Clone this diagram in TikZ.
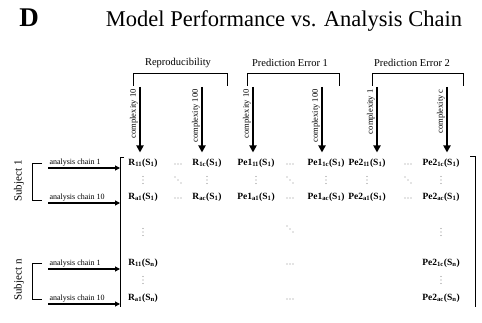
\documentclass[tikz,border=0pt]{standalone}
\usepackage{fontspec}
\setmainfont{Liberation Serif}
\usetikzlibrary{arrows.meta, positioning}

\begin{document}
\begin{tikzpicture}[
    x=1pt, y=-1pt,
    entry/.style={font=\fontsize{9.5}{11}\selectfont\bfseries, inner sep=1pt},
    dotfill/.style={fill=black!45},
    hdts/.pic={\fill[dotfill] (-3,0) circle (0.55) (0,0) circle (0.55) (3,0) circle (0.55);},
    vdts/.pic={\fill[dotfill] (0,-3.5) circle (0.55) (0,0) circle (0.55) (0,3.5) circle (0.55);},
    ddts/.pic={\fill[dotfill] (-3,-3) circle (0.55) (0,0) circle (0.55) (3,3) circle (0.55);},
    group/.style={font=\fontsize{10.5}{12}\selectfont},
    cplx/.style={rotate=90, anchor=south east, font=\fontsize{8.5}{10}\selectfont, inner sep=1.5pt},
    chain/.style={anchor=south west, font=\fontsize{8}{9}\selectfont, inner sep=1pt},
    subj/.style={rotate=90, font=\fontsize{11}{12}\selectfont},
    carrow/.style={-{Triangle[length=7pt, width=7pt]}, line width=1.8pt, shorten >=5pt},
    harrow/.style={-{Triangle[length=5pt, width=5pt]}, line width=1.1pt},
    brack/.style={line width=0.9pt},
]
\useasboundingbox (0,0) rectangle (482,323);

% Heading
\node[font=\fontsize{27}{30}\selectfont\bfseries, anchor=base] (panel) at (29,27) {D};
\node[font=\fontsize{22.5}{26}\selectfont, anchor=base] (title) at (284,27) {Model Performance vs. Analysis Chain};

% Measure groups with brackets
\node[group] (repro) at (178,63) {Reproducibility};
\node[group] (pe1) at (290,63) {Prediction Error 1};
\node[group] (pe2) at (412,63) {Prediction Error 2};
\draw[brack] (133,86) |- (227,73) -- (227,86);
\draw[brack] (247,86) |- (339,73) -- (339,86);
\draw[brack] (372,86) |- (463,73) -- (463,86);

% Subject 1 rows
\node[entry] (r11) at (143,163) {R\textsubscript{11}(S\textsubscript{1})};
\pic (h11) at (178,164) {hdts};
\node[entry] (r1c) at (207,163) {R\textsubscript{1c}(S\textsubscript{1})};
\node[entry] (pa11) at (256,163) {Pe1\textsubscript{11}(S\textsubscript{1})};
\pic (h12) at (290,164) {hdts};
\node[entry] (pa1c) at (326,163) {Pe1\textsubscript{1c}(S\textsubscript{1})};
\node[entry] (pb11) at (367,163) {Pe2\textsubscript{11}(S\textsubscript{1})};
\pic (h13) at (408,164) {hdts};
\node[entry] (pb1c) at (441,163) {Pe2\textsubscript{1c}(S\textsubscript{1})};

\pic (v11) at (143,180) {vdts};
\pic (d11) at (178,180) {ddts};
\pic (v12) at (207,180) {vdts};
\pic (v13) at (256,180) {vdts};
\pic (d12) at (290,180) {ddts};
\pic (v14) at (326,180) {vdts};
\pic (v15) at (367,180) {vdts};
\pic (d13) at (408,180) {ddts};
\pic (v16) at (441,180) {vdts};

\node[entry] (ra1) at (143,197) {R\textsubscript{a1}(S\textsubscript{1})};
\pic (h21) at (178,198) {hdts};
\node[entry] (rac) at (207,197) {R\textsubscript{ac}(S\textsubscript{1})};
\node[entry] (paa1) at (256,197) {Pe1\textsubscript{a1}(S\textsubscript{1})};
\pic (h22) at (290,198) {hdts};
\node[entry] (paac) at (326,197) {Pe1\textsubscript{ac}(S\textsubscript{1})};
\node[entry] (pba1) at (367,197) {Pe2\textsubscript{a1}(S\textsubscript{1})};
\pic (h23) at (408,198) {hdts};
\node[entry] (pbac) at (441,197) {Pe2\textsubscript{ac}(S\textsubscript{1})};

% Gap between subjects
\pic (vm1) at (143,232) {vdts};
\pic (dm) at (290,229) {ddts};
\pic (vm2) at (441,232) {vdts};

% Subject n rows
\node[entry] (rn11) at (143,263) {R\textsubscript{11}(S\textsubscript{n})};
\pic (hn1) at (290,264) {hdts};
\node[entry] (pbn1c) at (441,263) {Pe2\textsubscript{1c}(S\textsubscript{n})};
\pic (vn1) at (143,280) {vdts};
\pic (vn2) at (441,280) {vdts};
\node[entry] (rna1) at (143,298) {R\textsubscript{a1}(S\textsubscript{n})};
\pic (hn2) at (290,299) {hdts};
\node[entry] (pbnac) at (441,298) {Pe2\textsubscript{ac}(S\textsubscript{n})};

% Matrix brackets
\coordinate (lbtop) at (120,157);
\coordinate (lbbot) at (120,307);
\draw[brack] (124,157) -- (lbtop) -- (lbbot);
\draw[brack] (470,156) -- (475,156) -- (475,307);

% Complexity arrows
\coordinate (c1) at (140,87);
\coordinate (c2) at (202,87);
\coordinate (c3) at (253,87);
\coordinate (c4) at (322,87);
\coordinate (c5) at (377,87);
\coordinate (c6) at (447,87);
\draw[carrow] (c1) -- node[cplx, pos=0] {complexity 10} (c1 |- r11.north);
\draw[carrow] (c2) -- node[cplx, pos=0] {complexity 100} (c2 |- r1c.north);
\draw[carrow] (c3) -- node[cplx, pos=0] {complexity 10} (c3 |- pa11.north);
\draw[carrow] (c4) -- node[cplx, pos=0] {complexity 100} (c4 |- pa1c.north);
\draw[carrow] (c5) -- node[cplx, pos=0] {complexity 1} (c5 |- pb11.north);
\draw[carrow] (c6) -- node[cplx, pos=0] {complexity c} (c6 |- pb1c.north);

% Subject 1 analysis chains
\node[subj] (subj1) at (19,181) {Subject 1};
\draw[brack] (42,163) -- (32,163) -- (32,200) -- (42,200);
\coordinate (s1a) at (48,168);
\coordinate (s1b) at (48,203);
\draw[harrow] (s1a) -- node[chain, pos=0] {analysis chain 1} (s1a -| lbtop);
\draw[harrow] (s1b) -- node[chain, pos=0] {analysis chain 10} (s1b -| lbtop);

% Subject n analysis chains
\node[subj] (subjn) at (19,280) {Subject n};
\draw[brack] (42,263) -- (32,263) -- (32,299) -- (42,299);
\coordinate (sna) at (48,269);
\coordinate (snb) at (48,304);
\draw[harrow] (sna) -- node[chain, pos=0] {analysis chain 1} (sna -| lbtop);
\draw[harrow] (snb) -- node[chain, pos=0] {analysis chain 10} (snb -| lbtop);

\end{tikzpicture}
\end{document}
